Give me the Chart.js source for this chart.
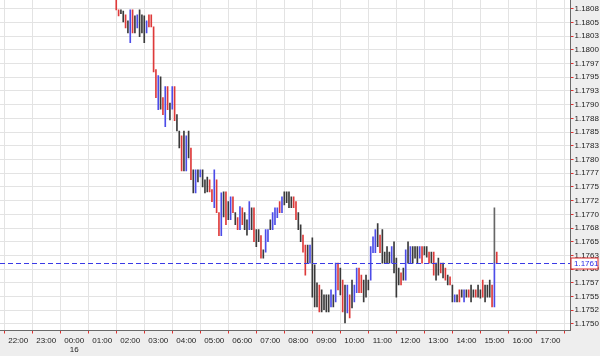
<!DOCTYPE html>
<html><head><meta charset="utf-8">
<script src="https://cdn.jsdelivr.net/npm/chart.js@4.4.1/dist/chart.umd.min.js"></script>
<style>html,body{margin:0;padding:0;background:#efefef;overflow:hidden}</style>
</head><body>
<canvas id="c" width="600" height="356" style="display:block;width:600px;height:356px"></canvas>
<script>
// ---- data ----
const firstBarMinute = 90;   // 01:30 (minutes after 00:00 on the 16th)
const barMinutes = 5;        // 5-minute bars
const highs = [
1.18100,1.18073,1.18073,1.18071,1.18064,1.18053,1.18073,1.18073,1.18062,1.18064,
1.18073,1.18064,1.18062,1.18053,1.18064,1.18064,1.18042,1.17964,1.17953,1.17951,
1.17913,1.17933,1.17933,1.17903,1.17933,1.17933,1.17882,1.17852,1.17843,1.17852,
1.17843,1.17852,1.17821,1.17781,1.17781,1.17781,1.17781,1.17781,1.17763,1.17768,
1.17763,1.17745,1.17781,1.17763,1.17703,1.17739,1.17741,1.17741,1.17723,1.17732,
1.17732,1.17703,1.17694,1.17714,1.17712,1.17703,1.17690,1.17723,1.17712,1.17712,
1.17672,1.17672,1.17661,1.17635,1.17672,1.17672,1.17690,1.17703,1.17712,1.17712,
1.17723,1.17732,1.17741,1.17741,1.17741,1.17732,1.17732,1.17723,1.17703,1.17681,
1.17662,1.17644,1.17644,1.17644,1.17657,1.17608,1.17575,1.17571,1.17562,1.17553,
1.17553,1.17553,1.17562,1.17553,1.17611,1.17611,1.17602,1.17580,1.17571,1.17571,
1.17553,1.17580,1.17571,1.17602,1.17602,1.17589,1.17580,1.17589,1.17580,1.17641,
1.17659,1.17672,1.17683,1.17662,1.17672,1.17631,1.17641,1.17631,1.17641,1.17650,
1.17620,1.17602,1.17593,1.17602,1.17635,1.17650,1.17641,1.17641,1.17641,1.17641,
1.17641,1.17641,1.17641,1.17641,1.17631,1.17631,1.17631,1.17611,1.17620,1.17611,
1.17611,1.17602,1.17589,1.17586,1.17571,1.17553,1.17553,1.17562,1.17562,1.17562,
1.17562,1.17562,1.17571,1.17562,1.17562,1.17571,1.17562,1.17580,1.17571,1.17571,
1.17580,1.17571,1.17611,1.17631];
const lows = [
1.18073,1.18062,1.18066,1.18051,1.18040,1.18031,1.18013,1.18031,1.18031,1.18040,
1.18024,1.18031,1.18013,1.18031,1.18042,1.18042,1.17960,1.17913,1.17891,1.17892,
1.17882,1.17860,1.17891,1.17872,1.17892,1.17871,1.17852,1.17821,1.17779,1.17779,
1.17779,1.17803,1.17763,1.17739,1.17739,1.17759,1.17768,1.17750,1.17739,1.17741,
1.17741,1.17723,1.17712,1.17703,1.17661,1.17661,1.17695,1.17681,1.17690,1.17690,
1.17703,1.17681,1.17672,1.17672,1.17681,1.17672,1.17662,1.17672,1.17672,1.17650,
1.17641,1.17650,1.17620,1.17620,1.17631,1.17650,1.17672,1.17672,1.17681,1.17694,
1.17703,1.17703,1.17717,1.17721,1.17712,1.17712,1.17712,1.17690,1.17672,1.17650,
1.17631,1.17589,1.17611,1.17611,1.17549,1.17531,1.17531,1.17522,1.17522,1.17526,
1.17522,1.17522,1.17531,1.17531,1.17540,1.17562,1.17553,1.17522,1.17502,1.17520,
1.17511,1.17529,1.17540,1.17557,1.17557,1.17557,1.17540,1.17549,1.17562,1.17580,
1.17630,1.17630,1.17641,1.17630,1.17611,1.17611,1.17611,1.17611,1.17611,1.17593,
1.17549,1.17571,1.17571,1.17580,1.17580,1.17611,1.17611,1.17611,1.17620,1.17611,
1.17620,1.17611,1.17626,1.17622,1.17611,1.17611,1.17589,1.17580,1.17589,1.17593,
1.17584,1.17580,1.17571,1.17571,1.17540,1.17540,1.17540,1.17540,1.17549,1.17540,
1.17549,1.17549,1.17540,1.17549,1.17549,1.17549,1.17547,1.17549,1.17540,1.17549,
1.17549,1.17531,1.17531,1.17611];
// r = down tick, b = up tick, k = unchanged
const dirs = ("rrkkrkbrkbkkkbrrrrbk" + "rbrkbrkkrkbkrkbkbkkk" + "rrbrrbkrkbrkrbrkkbkr" +
  "kkrkbbkbbbrbkkkkrrkk" + "rrkbkkkrkkkkbkbrkrkb" + "rkbbrrkkkbbbkrkkkkbk" +
  "kkrkbkbkkkbrkkrkrkkr" + "krkrkbkrkbkrkkrkkrkk" + "krbr").split('');
// last bar's upper spike (15:00)
const spikeMinute = 900, spikeHigh = 1.17712, spikeLow = 1.17611;
const lastPrice = 1.17611, lastPriceLabel = '1.1761';

const yTickValues = [1.1750,1.17525,1.1755,1.17575,1.1760,1.17625,1.1765,1.17675,1.1770,1.17725,1.1775,1.17775,
  1.1780,1.17825,1.1785,1.17875,1.1790,1.17925,1.1795,1.17975,1.1800,1.18025,1.1805,1.18075];
const yTickLabels = ['1.1750','1.1752','1.1755','1.1757','1.1760','1.1763','1.1765','1.1768','1.1770','1.1772','1.1775','1.1777',
  '1.1780','1.1783','1.1785','1.1788','1.1790','1.1793','1.1795','1.1797','1.1800','1.1803','1.1805','1.1808'];
const xTickValues = [-120,-60,0,60,120,180,240,300,360,420,480,540,600,660,720,780,840,900,960,1020];
const xTickLabels = ['22:00','23:00',['00:00','16'],'01:00','02:00','03:00','04:00','05:00','06:00','07:00',
  '08:00','09:00','10:00','11:00','12:00','13:00','14:00','15:00','16:00','17:00'];

// ---- build ----
const dirColor = {r:'#de3a3a', b:'#4c4ce8', k:'#3a3a3a'};
const bars = highs.map((h,i)=>({x: firstBarMinute + i*barMinutes, y:[lows[i], h]}));
const barColors = dirs.map(d=>dirColor[d]);

const FONT = {family:'"Liberation Sans", Arial, sans-serif', size:8};

const bgPlugin = {
  id:'bg',
  beforeDraw(chart){
    const {ctx, chartArea:a} = chart;
    ctx.save();
    ctx.fillStyle = '#eeeeee';
    ctx.fillRect(0,0,chart.width,chart.height);
    ctx.fillStyle = '#ffffff';
    ctx.fillRect(a.left,a.top,a.right-a.left,a.bottom-a.top);
    ctx.restore();
  },
  afterDraw(chart){
    const {ctx, chartArea:a} = chart;
    const y = Math.round(chart.scales.y.getPixelForValue(lastPrice)) + 0.5;
    ctx.save();
    ctx.strokeStyle = '#3a3ae6';
    ctx.lineWidth = 1;
    ctx.setLineDash([5,3]);
    ctx.beginPath(); ctx.moveTo(a.left,y); ctx.lineTo(a.right,y); ctx.stroke();
    ctx.setLineDash([]);
    const bx = a.right + 0.5, bw = 27, bh = 11;
    ctx.fillStyle = '#ffffff';
    ctx.fillRect(bx, y-bh/2, bw, bh);
    ctx.strokeStyle = '#e02a2a';
    ctx.strokeRect(bx, y-bh/2, bw, bh);
    ctx.fillStyle = '#2a2ae6';
    ctx.font = '8px "Liberation Sans", Arial, sans-serif';
    ctx.textBaseline = 'middle';
    ctx.textAlign = 'left';
    ctx.fillText(lastPriceLabel, bx+3, y+0.5);
    ctx.restore();
  }
};

new Chart(document.getElementById('c'), {
  type:'bar',
  data:{datasets:[
    {data:bars, backgroundColor:barColors, borderWidth:0, barThickness:1, grouped:false},
    {data:[{x:spikeMinute, y:[spikeLow, spikeHigh]}], backgroundColor:'#666666', borderWidth:0, barThickness:1, grouped:false}
  ]},
  options:{
    responsive:false, animation:false, devicePixelRatio:1,
    layout:{padding:0},
    plugins:{legend:{display:false}, tooltip:{enabled:false}},
    scales:{
      x:{
        type:'linear', position:'bottom', min:-159, max:1063, offset:false,
        grid:{color:'#e3e3e3', tickColor:'#e03030', tickLength:3, drawTicks:true},
        border:{color:'#6a6a6a'},
        ticks:{font:FONT, color:'#222', padding:2, autoSkip:false, maxRotation:0, minRotation:0,
          callback:(v)=>{const k = xTickValues.indexOf(v); return k>=0 ? xTickLabels[k] : '';}},
        afterBuildTicks:(s)=>{ s.ticks = xTickValues.map(v=>({value:v})); },
        afterFit:(s)=>{ s.height = 25.5; s.paddingLeft = 0; s.paddingRight = 0; }
      },
      y:{
        type:'linear', position:'right', min:1.17488, max:1.18091,
        grid:{color:'#e3e3e3', tickColor:'#e03030', tickLength:3, drawTicks:true},
        border:{color:'#6a6a6a'},
        ticks:{font:FONT, color:'#222', padding:1, autoSkip:false,
          callback:(v)=>{const k = yTickValues.findIndex(t=>Math.abs(t-v)<1e-7); return k>=0 ? yTickLabels[k] : '';}},
        afterBuildTicks:(s)=>{ s.ticks = yTickValues.map(v=>({value:v})); },
        afterFit:(s)=>{ s.width = 29.5; s.paddingTop = 0; s.paddingBottom = 0; }
      }
    }
  },
  plugins:[bgPlugin]
});
</script>
</body></html>
